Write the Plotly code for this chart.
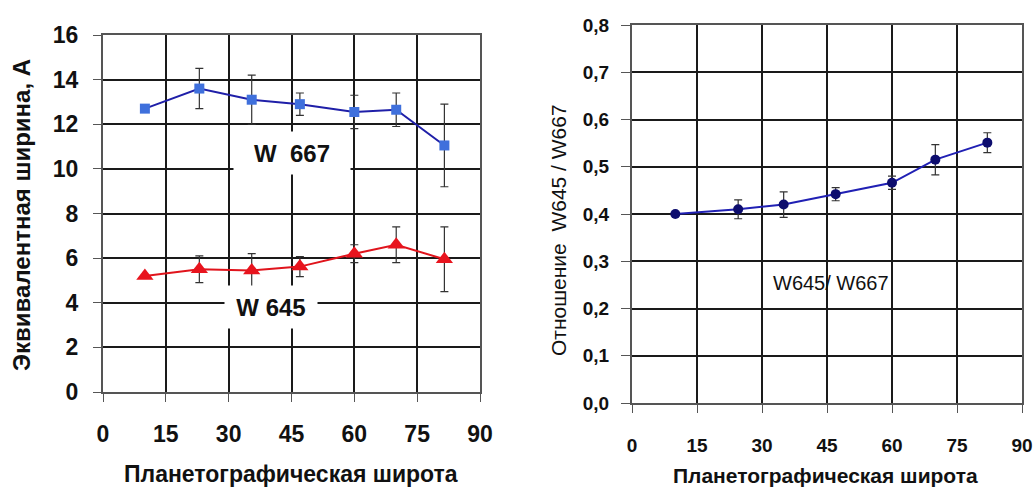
import plotly.graph_objects as go

# ---- data ----
lat_left = [10, 23, 35.5, 47, 60, 70, 81.5]
w667 = [12.7, 13.6, 13.1, 12.9, 12.55, 12.65, 11.05]
w667_err = [0, 0.9, 1.1, 0.5, 0.75, 0.75, 1.85]
w645 = [5.2, 5.5, 5.45, 5.62, 6.2, 6.6, 5.95]
w645_err = [0, 0.6, 0.75, 0.45, 0.4, 0.8, 1.45]

lat_right = [10, 24.5, 35, 47, 60, 70, 82]
ratio = [0.40, 0.41, 0.42, 0.442, 0.466, 0.515, 0.551]
ratio_err = [0, 0.02, 0.027, 0.014, 0.014, 0.032, 0.021]

x_ticks = [0, 15, 30, 45, 60, 75, 90]
y_left_ticks = [0, 2, 4, 6, 8, 10, 12, 14, 16]
y_right_ticks = [0, 0.1, 0.2, 0.3, 0.4, 0.5, 0.6, 0.7, 0.8]
y_right_labels = ["0,0", "0,1", "0,2", "0,3", "0,4", "0,5", "0,6", "0,7", "0,8"]

FONT = "Liberation Sans, Arial, sans-serif"

fig = go.Figure()

fig.add_trace(go.Scatter(
    x=lat_left, y=w667, mode="lines+markers",
    line=dict(color="#1f1fa8", width=2),
    marker=dict(symbol="square", size=10, color="#3f70dc"),
    error_y=dict(type="data", array=w667_err, color="#333333", thickness=1.2, width=4),
    xaxis="x", yaxis="y", showlegend=False))

fig.add_trace(go.Scatter(
    x=lat_left, y=w645, mode="lines+markers",
    line=dict(color="#e0141c", width=2),
    marker=dict(symbol="triangle-up", size=15, color="#e8141e"),
    error_y=dict(type="data", array=w645_err, color="#333333", thickness=1.2, width=4),
    xaxis="x", yaxis="y", showlegend=False))

fig.add_trace(go.Scatter(
    x=lat_right, y=ratio, mode="lines+markers",
    line=dict(color="#2020b4", width=2),
    marker=dict(symbol="circle", size=10, color="#0d0d6e"),
    error_y=dict(type="data", array=ratio_err, color="#333333", thickness=1.2, width=4),
    xaxis="x2", yaxis="y2", showlegend=False))

axis_common = dict(
    showgrid=True, gridcolor="#1a1a1a", gridwidth=1.5,
    showline=True, linecolor="#555555", linewidth=2, mirror=True,
    ticks="outside", tickcolor="#555555", zeroline=False, automargin=False,
)

fig.update_layout(
    width=1035, height=490,
    margin=dict(l=0, r=0, t=0, b=0, autoexpand=False),
    paper_bgcolor="white", plot_bgcolor="white",
    font=dict(family=FONT, color="#111111"),
    xaxis=dict(domain=[103/1035, 480/1035], range=[0, 90], tickvals=x_ticks,
               ticklen=8, ticklabelstandoff=12,
               tickfont=dict(size=23, weight="bold", family=FONT), anchor="y", **axis_common),
    yaxis=dict(domain=[1-392/490, 1-35/490], range=[0, 16], tickvals=y_left_ticks,
               ticklen=8, ticklabelstandoff=10,
               tickfont=dict(size=23, weight="bold", family=FONT), anchor="x", **axis_common),
    xaxis2=dict(domain=[632/1035, 1022/1035], range=[0, 90], tickvals=x_ticks,
                ticklen=8, ticklabelstandoff=16,
                tickfont=dict(size=19, weight="bold", family=FONT), anchor="y2", **axis_common),
    yaxis2=dict(domain=[1-403/490, 1-25/490], range=[0, 0.8], tickvals=y_right_ticks,
                ticktext=y_right_labels, ticklen=9, ticklabelstandoff=8,
                tickfont=dict(size=19, weight="bold", family=FONT), anchor="x2", **axis_common),
)

annotations = [
    dict(text="W  667", x=45, y=10.7, xref="x", yref="y", showarrow=False,
         font=dict(size=24, weight="bold", family=FONT, color="#111"),
         bgcolor="white", width=114, height=40),
    dict(text="W 645", x=40, y=3.8, xref="x", yref="y", showarrow=False,
         font=dict(size=24, weight="bold", family=FONT, color="#111"),
         bgcolor="white", width=90, height=40),
    dict(text="W645/ W667", x=46, y=0.254, xref="x2", yref="y2", showarrow=False,
         font=dict(size=20, family=FONT, color="#111")),
    dict(text="Планетографическая широта", x=291/1035, y=1-474/490, xref="paper", yref="paper",
         xanchor="center", yanchor="middle",
         showarrow=False, font=dict(size=23, weight="bold", family=FONT, color="#111")),
    dict(text="Планетографическая широта", x=825/1035, y=1-475/490, xref="paper", yref="paper",
         xanchor="center", yanchor="middle",
         showarrow=False, font=dict(size=21, weight="bold", family=FONT, color="#111")),
    dict(text="Эквивалентная ширина, А", x=22/1035, y=1-215/490, xref="paper", yref="paper",
         xanchor="center", yanchor="middle",
         showarrow=False, textangle=-90, font=dict(size=24, weight="bold", family=FONT, color="#111")),
    dict(text="Отношение  W645 / W667", x=558/1035, y=1-230/490, xref="paper", yref="paper",
         xanchor="center", yanchor="middle",
         showarrow=False, textangle=-90, font=dict(size=21, family=FONT, color="#111")),
]
fig.update_layout(annotations=annotations)

fig.write_html("out.html")
